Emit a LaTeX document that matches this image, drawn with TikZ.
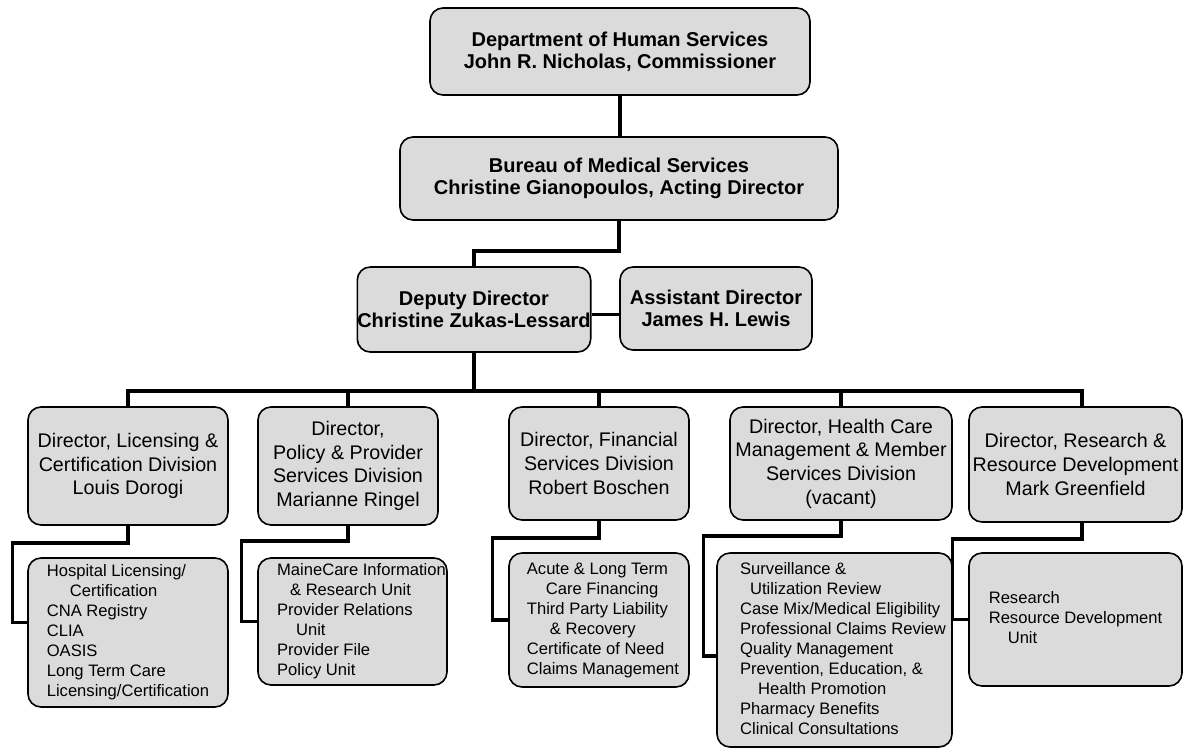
\documentclass[tikz,border=0pt]{standalone}
\usepackage{fontspec}
\setmainfont{Liberation Sans}
\newcommand\sublines[2]{\begin{tabular}{@{\hspace{#1}}l@{}}#2\end{tabular}}
\begin{document}
\begin{tikzpicture}[x=1pt,y=-1pt,
  box/.style={draw=black, line width=1.6pt, fill=black!14, rounded corners=13pt, inner sep=0pt, align=center},
  topbox/.style={box, font=\bfseries\fontsize{20}{22}\selectfont},
  dirbox/.style={box, font=\fontsize{19.7}{23.7}\selectfont},
  subbox/.style={box, font=\fontsize{16.6}{20}\selectfont},
  link/.style={line width=3.4pt}]
\useasboundingbox (0,0) rectangle (1183,753);

% top levels
\node[topbox, minimum width=380pt, minimum height=87pt] (dhs) at (620,51.5)
  {Department of Human Services\\John R. Nicholas, Commissioner};
\node[topbox, minimum width=438pt, minimum height=83pt] (bms) at (619,178.5)
  {Bureau of Medical Services\\Christine Gianopoulos, Acting Director};
\node[topbox, minimum width=232pt, minimum height=85pt] (dep) at (474,309.5)
  {Deputy Director\\Christine Zukas-Lessard};
\node[topbox, minimum width=192pt, minimum height=83pt] (asst) at (716,308.5)
  {Assistant Director\\James H. Lewis};

% directors
\node[dirbox, minimum width=200pt, minimum height=118pt] (d1) at (128,466)
  {Director, Licensing \&\\Certification Division\\Louis Dorogi};
\node[dirbox, minimum width=180pt, minimum height=118pt] (d2) at (348,466)
  {Director,\\Policy \& Provider\\Services Division\\Marianne Ringel};
\node[dirbox, minimum width=180pt, minimum height=113pt] (d3) at (599,463.5)
  {Director, Financial\\Services Division\\Robert Boschen};
\node[dirbox, minimum width=222pt, minimum height=113pt] (d4) at (841,463.5)
  {Director, Health Care\\Management \& Member\\Services Division\\(vacant)};
\node[dirbox, minimum width=213pt, minimum height=115pt] (d5) at (1075.5,464.5)
  {Director, Research \&\\Resource Development\\Mark Greenfield};

% units
\node[subbox, minimum width=200pt, minimum height=149pt] (s1) at (128,632.5)
  {\sublines{0pt}{Hospital Licensing/\\\hspace*{23pt}Certification\\CNA Registry\\CLIA\\OASIS\\Long Term Care\\Licensing/Certification}};
\node[subbox, minimum width=189pt, minimum height=127pt] (s2) at (352.5,621.5)
  {\sublines{18pt}{MaineCare Information\\\hspace*{13pt}\& Research Unit\\Provider Relations\\\hspace*{19pt}Unit\\Provider File\\Policy Unit}};
\node[subbox, minimum width=180pt, minimum height=134pt] (s3) at (599,620)
  {\sublines{8pt}{Acute \& Long Term\\\hspace*{19pt}Care Financing\\Third Party Liability\\\hspace*{23pt}\& Recovery\\Certificate of Need\\Claims Management}};
\node[subbox, minimum width=235pt, minimum height=194pt] (s4) at (834.5,650)
  {\sublines{17pt}{Surveillance \&\\\hspace*{10pt}Utilization Review\\Case Mix/Medical Eligibility\\Professional Claims Review\\Quality Management\\Prevention, Education, \&\\\hspace*{18pt}Health Promotion\\Pharmacy Benefits\\Clinical Consultations}};
\node[subbox, minimum width=213pt, minimum height=133pt] (s5) at (1075.5,619.5)
  {\sublines{0pt}{Research\\Resource Development\\\hspace*{19pt}Unit}};

% connectors
\draw[link] (dhs.south) -- (dhs.south |- bms.north);
\draw[link] (bms.south) -- ++(0,30) -| (dep.north);
\draw[link] ([yshift=-5pt]dep.east) -- ([yshift=-5pt]dep.east -| asst.west);
\draw[link] (dep.south) -- ++(0,38) coordinate (bus);
\draw[link] (d1.north) -- (d1.north |- bus) -- ([xshift=6.5pt]d5.north |- bus) -- ([xshift=6.5pt]d5.north);
\foreach \n in {d2,d3,d4} \draw[link] (\n.north) -- (\n.north |- bus);

\draw[link] (d1.south) -- ++(0,17) -| ([xshift=-15pt,yshift=10pt]s1.west) -- ([yshift=10pt]s1.west);
\draw[link] (d2.south) -- ++(0,15) -| ([xshift=-16pt]s2.west) -- (s2.west);
\draw[link] (d3.south) -- ++(0,17) -| ([xshift=-16pt]s3.west) -- (s3.west);
\draw[link] (d4.south) -- ++(0,15) -| ([xshift=-13pt,yshift=-6pt]s4.west) -- ([yshift=-6pt]s4.west);
\draw[link] ([xshift=6.5pt]d5.south) -- ++(0,16) -| ([xshift=-16pt]s5.west) -- (s5.west);
\end{tikzpicture}
\end{document}
